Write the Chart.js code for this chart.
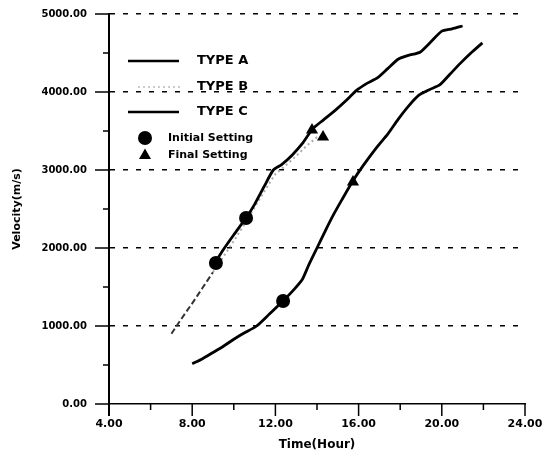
<!DOCTYPE html>
<html>
<head>
<meta charset="utf-8">
<script src="https://cdn.jsdelivr.net/npm/chart.js@4/dist/chart.umd.min.js"></script>
<style>
html,body{margin:0;padding:0;background:#fff;}
canvas{display:block;}
</style>
</head>
<body>
<canvas id="c" width="545" height="452"></canvas>
<script>
// ---- data ----
const typeAHours    = [9.1, 9.5, 10.0, 10.6, 11.0, 11.5, 11.9, 12.3, 12.8, 13.3, 13.8, 14.3, 14.9, 15.4, 15.9, 16.4, 16.9, 17.4, 17.9, 18.4, 18.95, 19.5, 20.0, 20.5, 21.0];
const typeAVelocity = [1810, 1980, 2170, 2390, 2560, 2810, 3000, 3070, 3190, 3340, 3530, 3640, 3770, 3890, 4020, 4110, 4180, 4300, 4420, 4470, 4510, 4650, 4780, 4810, 4846];

const typeBHours    = [7.0, 7.5, 8.0, 8.5, 9.0, 9.5, 10.0, 10.5, 11.0, 11.5, 12.0, 12.5, 13.0, 13.5, 14.0, 14.3];
const typeBVelocity = [900, 1100, 1290, 1490, 1690, 1890, 2090, 2300, 2520, 2740, 2950, 3060, 3180, 3310, 3420, 3420];

const typeCHours    = [8.0, 8.5, 9.0, 9.5, 10.0, 10.5, 11.1, 11.7, 12.4, 12.9, 13.3, 13.6, 14.0, 14.4, 14.8, 15.2, 15.7, 16.2, 16.9, 17.4, 17.9, 18.4, 18.9, 19.4, 19.9, 20.4, 20.9, 21.4, 21.95];
const typeCVelocity = [515, 580, 660, 740, 830, 910, 1000, 1150, 1330, 1470, 1600, 1780, 2000, 2220, 2430, 2620, 2850, 3050, 3300, 3460, 3650, 3820, 3960, 4030, 4090, 4230, 4370, 4500, 4630];

const initialHours    = [9.14, 10.59, 12.37];
const initialVelocity = [1808, 2385, 1321];
const finalHours      = [13.76, 14.29, 15.73];
const finalVelocity   = [3513, 3423, 2846];

const seriesNames = ['TYPE A', 'TYPE B', 'TYPE C', 'Initial Setting', 'Final Setting'];
const xTickValues = [4, 8, 12, 16, 20, 24];
const xMinorTicks = [6, 10, 14, 18, 22];
const yTickValues = [0, 1000, 2000, 3000, 4000, 5000];
const yMinorTicks = [500, 1500, 2500, 3500, 4500];

const pts = (xs, ys) => xs.map((x, i) => ({x: x, y: ys[i]}));

const FONT = '"DejaVu Sans", "Liberation Sans", Arial, sans-serif';

// custom tick marks + legend drawn with the chart's scales
const decorPlugin = {
  id: 'decor',
  afterDraw(chart) {
    const ctx = chart.ctx;
    const xs = chart.scales.x, ys = chart.scales.y;
    const ax = xs.getPixelForValue(4);
    const ay = ys.getPixelForValue(0);
    ctx.save();
    ctx.strokeStyle = '#000';
    // y ticks
    ctx.lineWidth = 1.5;
    yTickValues.forEach(v => {
      const y = ys.getPixelForValue(v);
      ctx.beginPath(); ctx.moveTo(ax - 14, y); ctx.lineTo(ax, y); ctx.stroke();
    });
    yMinorTicks.forEach(v => {
      const y = ys.getPixelForValue(v);
      ctx.beginPath(); ctx.moveTo(ax - 6, y); ctx.lineTo(ax, y); ctx.stroke();
    });
    // x ticks
    xTickValues.forEach(v => {
      const x = xs.getPixelForValue(v);
      ctx.lineWidth = (v === 4) ? 2 : 1.5;
      ctx.beginPath(); ctx.moveTo(x, ay); ctx.lineTo(x, ay + 12); ctx.stroke();
    });
    ctx.lineWidth = 1.5;
    xMinorTicks.forEach(v => {
      const x = xs.getPixelForValue(v);
      ctx.beginPath(); ctx.moveTo(x, ay); ctx.lineTo(x, ay + 6); ctx.stroke();
    });

    // legend
    ctx.fillStyle = '#000';
    ctx.textBaseline = 'middle';
    ctx.textAlign = 'left';
    ctx.lineWidth = 2.5;
    ctx.beginPath(); ctx.moveTo(128, 61); ctx.lineTo(179, 61); ctx.stroke();
    ctx.beginPath(); ctx.moveTo(128, 112); ctx.lineTo(179, 112); ctx.stroke();
    ctx.save();
    ctx.strokeStyle = '#bbbbbb'; ctx.lineWidth = 1.5; ctx.setLineDash([2, 3]);
    ctx.beginPath(); ctx.moveTo(138, 87); ctx.lineTo(180, 87); ctx.stroke();
    ctx.restore();
    ctx.font = 'bold 13px ' + FONT;
    ctx.fillText(seriesNames[0], 197, 61);
    ctx.fillText(seriesNames[1], 197, 87);
    ctx.fillText(seriesNames[2], 197, 112);
    ctx.beginPath(); ctx.arc(145, 138, 7, 0, Math.PI * 2); ctx.fill();
    ctx.beginPath(); ctx.moveTo(145, 148.5); ctx.lineTo(139, 159); ctx.lineTo(151, 159); ctx.closePath(); ctx.fill();
    ctx.font = 'bold 11px ' + FONT;
    ctx.fillText(seriesNames[3], 168, 138);
    ctx.fillText(seriesNames[4], 168, 155);
    ctx.restore();
  }
};

new Chart(document.getElementById('c'), {
  type: 'scatter',
  data: {
    datasets: [
      {label: seriesNames[1], data: pts(typeBHours, typeBVelocity), showLine: true, borderColor: '#333', borderWidth: 2, borderDash: [6, 3], pointRadius: 0, tension: 0, order: 3,
       segment: {
         borderColor: c => c.p0.parsed.x >= 9.0 ? '#aaaaaa' : '#333333',
         borderDash: c => c.p0.parsed.x >= 9.0 ? [2, 3] : [6, 3]
       }},
      {label: seriesNames[0], data: pts(typeAHours, typeAVelocity), showLine: true, borderColor: '#000', borderWidth: 2.8, pointRadius: 0, tension: 0.2, order: 2},
      {label: seriesNames[2], data: pts(typeCHours, typeCVelocity), showLine: true, borderColor: '#000', borderWidth: 2.8, pointRadius: 0, tension: 0.2, order: 2},
      {label: seriesNames[3], data: pts(initialHours, initialVelocity), showLine: false, pointStyle: 'circle', pointRadius: 7, backgroundColor: '#000', borderColor: '#000', borderWidth: 0, order: 1},
      {label: seriesNames[4], data: pts(finalHours, finalVelocity), showLine: false, pointStyle: 'triangle', pointRadius: 7, backgroundColor: '#000', borderColor: '#000', borderWidth: 0, order: 1}
    ]
  },
  options: {
    responsive: false,
    animation: false,
    layout: {padding: {left: 0, right: 20, top: 14, bottom: 0}},
    plugins: {legend: {display: false}, tooltip: {enabled: false}},
    scales: {
      x: {
        type: 'linear', min: 4, max: 24,
        afterBuildTicks: s => { s.ticks = xTickValues.map(v => ({value: v})); },
        afterFit: s => { s.height = 48; s.paddingLeft = 0; s.paddingRight = 0; },
        ticks: {
          callback: v => Number(v).toFixed(2),
          color: '#000', font: {family: FONT, size: 11, weight: 'bold'}, padding: 14, maxRotation: 0
        },
        grid: {display: true, color: 'transparent', drawTicks: false},
        border: {display: true, color: '#000', width: 1.5},
        title: {display: true, text: 'Time(Hour)', color: '#000', font: {family: FONT, size: 12, weight: 'bold'}, padding: {top: 0, bottom: 0}}
      },
      y: {
        type: 'linear', min: 0, max: 5000,
        afterBuildTicks: s => { s.ticks = yTickValues.map(v => ({value: v})); },
        afterFit: s => { s.width = 109; s.paddingTop = 0; s.paddingBottom = 0; },
        ticks: {
          callback: v => Number(v).toFixed(2),
          color: '#000', font: {family: FONT, size: 10, weight: 'bold'}, padding: 22
        },
        grid: {display: true, color: ctx => (ctx.tick && ctx.tick.value === 0) ? 'transparent' : '#000', lineWidth: 1.5, drawTicks: false},
        border: {display: true, color: '#000', width: 2, dash: [5, 8]},
        title: {display: true, text: 'Velocity(m/s)', color: '#000', font: {family: FONT, size: 11, weight: 'bold'}, padding: {top: 11, bottom: 0}}
      }
    }
  },
  plugins: [decorPlugin]
});
</script>
</body>
</html>
